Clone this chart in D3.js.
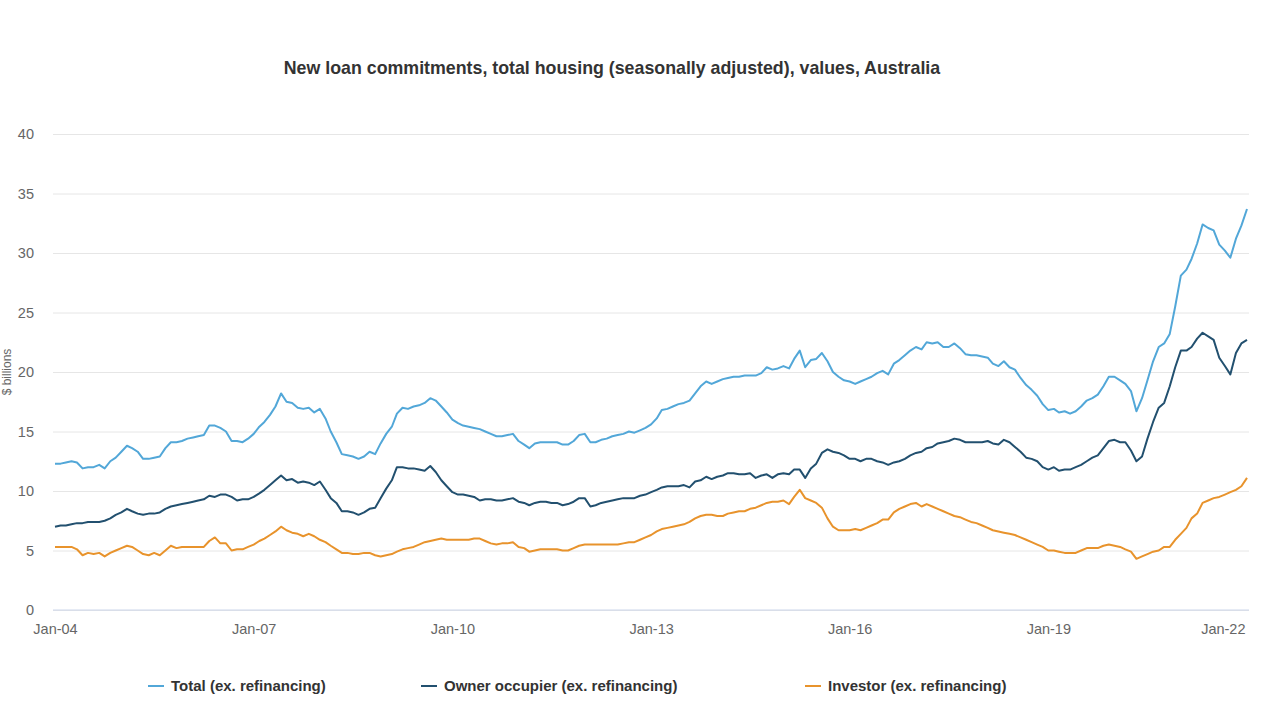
<!DOCTYPE html>
<html>
<head>
<meta charset="utf-8">
<script src="https://cdn.jsdelivr.net/npm/d3@7"></script>
<style>
  html, body { margin: 0; padding: 0; background: #fff; }
  svg { display: block; font-family: "Liberation Sans", Arial, Helvetica, sans-serif; }
</style>
</head>
<body>
<svg id="chart" width="1280" height="719"></svg>
<script>
// ---- Data (monthly, Jan 2004 – Jan 2022), $ billions ----
const startMonth = "2004-01";
const tickLabels = ["Jan-04", "Jan-07", "Jan-10", "Jan-13", "Jan-16", "Jan-19", "Jan-22"];
const yTicks = [0, 5, 10, 15, 20, 25, 30, 35, 40];
const seriesNames = ["Total (ex. refinancing)", "Owner occupier (ex. refinancing)", "Investor (ex. refinancing)"];

const total = [
12.3,12.3,12.4,12.5,12.4,11.9,12.0,12.0,12.2,11.9,12.5,12.8,13.3,13.8,13.6,13.3,12.7,12.7,12.8,12.9,
13.6,14.1,14.1,14.2,14.4,14.5,14.6,14.7,15.5,15.5,15.3,15.0,14.2,14.2,14.1,14.4,14.8,15.4,15.8,16.4,
17.1,18.2,17.5,17.4,17.0,16.9,17.0,16.6,16.9,16.1,15.0,14.1,13.1,13.0,12.9,12.7,12.9,13.3,13.1,14.0,
14.8,15.4,16.5,17.0,16.9,17.1,17.2,17.4,17.8,17.6,17.1,16.6,16.0,15.7,15.5,15.4,15.3,15.2,15.0,14.8,
14.6,14.6,14.7,14.8,14.2,13.9,13.6,14.0,14.1,14.1,14.1,14.1,13.9,13.9,14.2,14.7,14.8,14.1,14.1,14.3,
14.4,14.6,14.7,14.8,15.0,14.9,15.1,15.3,15.6,16.1,16.8,16.9,17.1,17.3,17.4,17.6,18.2,18.8,19.2,19.0,
19.2,19.4,19.5,19.6,19.6,19.7,19.7,19.7,19.9,20.4,20.2,20.3,20.5,20.3,21.1,21.8,20.4,21.0,21.1,21.6,
20.9,20.0,19.6,19.3,19.2,19.0,19.2,19.4,19.6,19.9,20.1,19.8,20.7,21.0,21.4,21.8,22.1,21.9,22.5,22.4,
22.5,22.1,22.1,22.4,22.0,21.5,21.4,21.4,21.3,21.2,20.7,20.5,20.9,20.4,20.2,19.5,18.9,18.5,18.0,17.3,
16.8,16.9,16.6,16.7,16.5,16.7,17.1,17.6,17.8,18.1,18.8,19.6,19.6,19.3,19.0,18.4,16.7,17.8,19.3,20.9,
22.1,22.4,23.2,25.5,28.1,28.6,29.5,30.8,32.4,32.1,31.9,30.7,30.2,29.6,31.2,32.3,33.7
];

const ownerOccupier = [
7.0,7.1,7.1,7.2,7.3,7.3,7.4,7.4,7.4,7.5,7.7,8.0,8.2,8.5,8.3,8.1,8.0,8.1,8.1,8.2,
8.5,8.7,8.8,8.9,9.0,9.1,9.2,9.3,9.6,9.5,9.7,9.7,9.5,9.2,9.3,9.3,9.5,9.8,10.1,10.5,
10.9,11.3,10.9,11.0,10.7,10.8,10.7,10.5,10.8,10.1,9.4,9.0,8.3,8.3,8.2,8.0,8.2,8.5,8.6,9.4,
10.2,10.9,12.0,12.0,11.9,11.9,11.8,11.7,12.1,11.6,10.9,10.4,9.9,9.7,9.7,9.6,9.5,9.2,9.3,9.3,
9.2,9.2,9.3,9.4,9.1,9.0,8.8,9.0,9.1,9.1,9.0,9.0,8.8,8.9,9.1,9.4,9.4,8.7,8.8,9.0,
9.1,9.2,9.3,9.4,9.4,9.4,9.6,9.7,9.9,10.1,10.3,10.4,10.4,10.4,10.5,10.3,10.8,10.9,11.2,11.0,
11.2,11.3,11.5,11.5,11.4,11.4,11.5,11.1,11.3,11.4,11.1,11.4,11.5,11.4,11.8,11.8,11.1,11.9,12.3,13.2,
13.5,13.3,13.2,13.0,12.7,12.7,12.5,12.7,12.7,12.5,12.4,12.2,12.4,12.5,12.7,13.0,13.2,13.3,13.6,13.7,
14.0,14.1,14.2,14.4,14.3,14.1,14.1,14.1,14.1,14.2,14.0,13.9,14.3,14.1,13.7,13.3,12.8,12.7,12.5,12.0,
11.8,12.0,11.7,11.8,11.8,12.0,12.2,12.5,12.8,13.0,13.6,14.2,14.3,14.1,14.1,13.4,12.5,12.9,14.4,15.8,
17.0,17.4,18.8,20.4,21.8,21.8,22.1,22.8,23.3,23.0,22.7,21.2,20.5,19.8,21.6,22.4,22.7
];

const investor = [
5.3,5.3,5.3,5.3,5.1,4.6,4.8,4.7,4.8,4.5,4.8,5.0,5.2,5.4,5.3,5.0,4.7,4.6,4.8,4.6,
5.0,5.4,5.2,5.3,5.3,5.3,5.3,5.3,5.8,6.1,5.6,5.6,5.0,5.1,5.1,5.3,5.5,5.8,6.0,6.3,
6.6,7.0,6.7,6.5,6.4,6.2,6.4,6.2,5.9,5.7,5.4,5.1,4.8,4.8,4.7,4.7,4.8,4.8,4.6,4.5,
4.6,4.7,4.9,5.1,5.2,5.3,5.5,5.7,5.8,5.9,6.0,5.9,5.9,5.9,5.9,5.9,6.0,6.0,5.8,5.6,
5.5,5.6,5.6,5.7,5.3,5.2,4.9,5.0,5.1,5.1,5.1,5.1,5.0,5.0,5.2,5.4,5.5,5.5,5.5,5.5,
5.5,5.5,5.5,5.6,5.7,5.7,5.9,6.1,6.3,6.6,6.8,6.9,7.0,7.1,7.2,7.4,7.7,7.9,8.0,8.0,
7.9,7.9,8.1,8.2,8.3,8.3,8.5,8.6,8.8,9.0,9.1,9.1,9.2,8.9,9.5,10.1,9.4,9.2,9.0,8.6,
7.7,7.0,6.7,6.7,6.7,6.8,6.7,6.9,7.1,7.3,7.6,7.6,8.2,8.5,8.7,8.9,9.0,8.7,8.9,8.7,
8.5,8.3,8.1,7.9,7.8,7.6,7.4,7.3,7.1,6.9,6.7,6.6,6.5,6.4,6.3,6.1,5.9,5.7,5.5,5.3,
5.0,5.0,4.9,4.8,4.8,4.8,5.0,5.2,5.2,5.2,5.4,5.5,5.4,5.3,5.1,4.9,4.3,4.5,4.7,4.9,
5.0,5.3,5.3,5.9,6.4,6.9,7.7,8.1,9.0,9.2,9.4,9.5,9.7,9.9,10.1,10.4,11.1
];

const colors = ["#52a7d8", "#22506f", "#e8932c"];

// ---- Layout ----
const svg = d3.select("#chart");
const W = 1280, H = 719;
const margin = { left: 53, right: 31, top: 134, bottom: 109 };
const plotW = W - margin.left - margin.right;
const plotH = H - margin.top - margin.bottom;

const parse = d3.timeParse("%Y-%m");
const t0 = parse(startMonth);
const dates = total.map((_, i) => d3.timeMonth.offset(t0, i));

const x = d3.scaleTime()
  .domain([dates[0], dates[dates.length - 1]])
  .range([margin.left + 2, margin.left + plotW - 2]);
const y = d3.scaleLinear().domain([0, 40]).range([margin.top + plotH, margin.top]);

// Title
svg.append("text")
  .attr("x", 612).attr("y", 74)
  .attr("text-anchor", "middle")
  .attr("font-size", 17.8).attr("font-weight", "bold")
  .attr("fill", "#333")
  .text("New loan commitments, total housing (seasonally adjusted), values, Australia");

// Y axis label (at the left edge)
svg.append("text")
  .attr("transform", `translate(11,372) rotate(-90)`)
  .attr("text-anchor", "middle")
  .attr("font-size", 12).attr("fill", "#666")
  .text("$ billions");

// Gridlines + y labels via axis
const yAxis = d3.axisLeft(y).tickValues(yTicks).tickSize(-plotW).tickPadding(19);
const gy = svg.append("g")
  .attr("transform", `translate(${margin.left},0)`)
  .call(yAxis);
gy.select(".domain").remove();
gy.selectAll(".tick line").attr("stroke", "#e6e6e6").attr("stroke-width", 1);
gy.selectAll(".tick text").attr("fill", "#666").attr("font-size", 14.5)
  .attr("font-family", "Liberation Sans, Arial, sans-serif");

// X axis
const tickDates = tickLabels.map((_, i) => d3.timeMonth.offset(t0, i * 36));
const xAxis = d3.axisBottom(x).tickValues(tickDates).tickSize(0).tickPadding(14)
  .tickFormat((d, i) => tickLabels[i]);
const gx = svg.append("g")
  .attr("transform", `translate(0,${margin.top + plotH})`)
  .call(xAxis);
gx.select(".domain").attr("stroke", "#ccd6eb").attr("d", `M${margin.left},0H${margin.left + plotW}`);
gx.selectAll(".tick text").attr("fill", "#666").attr("font-size", 14.5)
  .attr("font-family", "Liberation Sans, Arial, sans-serif");
// keep last label inside the chart
gx.selectAll(".tick text").filter((d, i) => i === tickLabels.length - 1)
  .attr("text-anchor", "end")
  .attr("x", (margin.left + plotW - 4) - x(tickDates[tickLabels.length - 1]));

// Lines
const line = d3.line().x((d, i) => x(dates[i])).y(d => y(d)).curve(d3.curveLinear);
[total, ownerOccupier, investor].forEach((s, k) => {
  svg.append("path")
    .datum(s)
    .attr("fill", "none")
    .attr("stroke", colors[k])
    .attr("stroke-width", 2)
    .attr("stroke-linejoin", "round")
    .attr("d", line);
});

// Legend
const legendX = [148, 421, 805];
const lg = svg.append("g").attr("transform", "translate(0,686)");
seriesNames.forEach((name, k) => {
  const g = lg.append("g").attr("transform", `translate(${legendX[k]},0)`);
  g.append("line").attr("x1", 0).attr("x2", 16).attr("y1", 0).attr("y2", 0)
    .attr("stroke", colors[k]).attr("stroke-width", 2);
  g.append("text").attr("x", 23).attr("y", 5)
    .attr("font-size", 15).attr("font-weight", "bold").attr("fill", "#333")
    .text(name);
});
</script>
</body>
</html>
